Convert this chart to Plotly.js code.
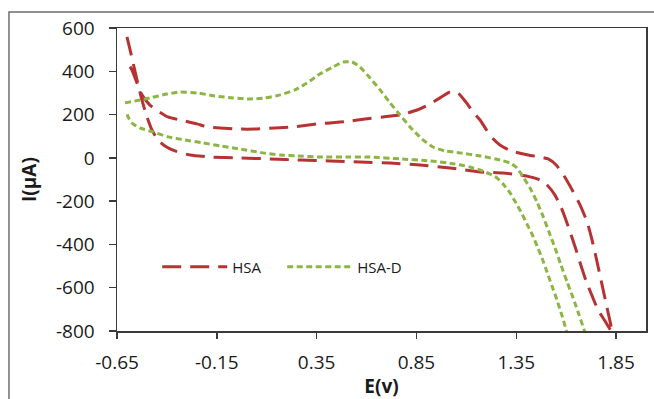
<!DOCTYPE html>
<html>
<head>
<meta charset="utf-8">
<script src="https://cdn.plot.ly/plotly-3.0.1.min.js"></script>
<style>
  html, body { margin: 0; padding: 0; background: #fff; overflow: hidden; }
  #chart { width: 654px; height: 399px; }
</style>
</head>
<body>
<div id="chart"></div>
<script>
// ---- Data ----
const seriesNames = ["HSA", "HSA-D"];

// HSA: potential E (V) and current I (µA), one continuous cyclic sweep
const hsaE = [
  -0.60, -0.575, -0.55, -0.525, -0.50, -0.475, -0.445, -0.41, -0.36, -0.284,
  -0.184, -0.034, 0.117, 0.267, 0.417, 0.567, 0.718, 0.868, 1.018, 1.169,
  1.284, 1.369, 1.419, 1.469, 1.509, 1.544, 1.574, 1.599, 1.625, 1.65,
  1.675, 1.70, 1.73, 1.76, 1.795, 1.83,
  1.805, 1.78, 1.755, 1.73, 1.705, 1.67, 1.63, 1.59, 1.55, 1.51,
  1.469, 1.41, 1.344, 1.31, 1.27, 1.234, 1.20, 1.169, 1.134, 1.10,
  1.058, 1.018, 0.968, 0.908, 0.853,
  0.768, 0.683, 0.593, 0.517, 0.417, 0.352, 0.232, 0.142, 0.041, -0.049,
  -0.134, -0.199, -0.249, -0.31, -0.395, -0.445, -0.485, -0.525, -0.55, -0.575,
  -0.60
];
const hsaI = [
  559, 462, 360, 267, 189, 129, 83, 55, 32, 13,
  4, 0, -5, -10, -14, -19, -24, -33, -47, -65,
  -70, -79, -88, -102, -130, -172, -227, -287, -356, -426,
  -500, -569, -638, -703, -754, -805,
  -694, -587, -481, -380, -296, -218, -148, -84, -33, -5,
  4, 13, 27, 38, 58, 88, 130, 175, 212, 255,
  300, 304, 277, 244, 221,
  198, 189, 180, 170, 161, 157, 143, 138, 133, 133,
  138, 143, 157, 170, 189, 217, 244, 291, 346, 406,
  443
];

// HSA-D
const hsadE = [
  -0.61, -0.56, -0.485, -0.40, -0.334, -0.25, -0.159, -0.069, 0.016, 0.091,
  0.167, 0.242, 0.302, 0.367, 0.432, 0.482, 0.527, 0.567, 0.618, 0.668,
  0.718, 0.768, 0.818, 0.878, 0.933, 0.993, 1.068, 1.169, 1.269, 1.319,
  1.354, 1.384, 1.419, 1.454, 1.484, 1.514, 1.544, 1.574, 1.605, 1.635,
  1.665, 1.695, 1.71,
  1.615, 1.600, 1.580, 1.554, 1.529, 1.504, 1.479, 1.454, 1.429, 1.404,
  1.379, 1.349, 1.319, 1.284, 1.254, 1.219, 1.169, 1.118, 1.043, 0.918,
  0.768, 0.618, 0.517, 0.367, 0.252, 0.167, 0.081, -0.034, -0.134, -0.219,
  -0.31, -0.395, -0.47, -0.535, -0.57, -0.595, -0.60
];
const hsadI = [
  254, 263, 277, 295, 304, 300, 286, 277, 272, 277,
  291, 314, 346, 388, 420, 443, 443, 420, 369, 314,
  254, 198, 143, 87, 50, 32, 23, 9, -10, -24,
  -47, -88, -139, -204, -269, -343, -416, -495, -574, -648,
  -726, -809, -851,
  -842, -795, -731, -657, -592, -527, -463, -407, -352, -306,
  -259, -209, -162, -121, -93, -75, -56, -42, -28, -14,
  -5, 4, 4, 4, 9, 13, 23, 41, 55, 69,
  83, 97, 120, 138, 157, 189, 212
];

// Tick labels
const xTickVals = [-0.65, -0.15, 0.35, 0.85, 1.35, 1.85];
const xTickText = ["-0.65", "-0.15", "0.35", "0.85", "1.35", "1.85"];
const yTickVals = [-800, -600, -400, -200, 0, 200, 400, 600];
const yTickText = ["-800", "-600", "-400", "-200", "0", "200", "400", "600"];

// ---- Plot ----
const FONT = "Open Sans, Liberation Sans, sans-serif";

const traces = [
  {
    x: hsaE, y: hsaI, name: seriesNames[0], type: "scatter", mode: "lines",
    line: { color: "#B73333", width: 3, dash: "19px,9px", shape: "spline", smoothing: 0.5 }
  },
  {
    x: hsadE, y: hsadI, name: seriesNames[1], type: "scatter", mode: "lines",
    line: { color: "#8DB544", width: 3, dash: "6px,3.5px", shape: "spline", smoothing: 0.5 }
  }
];

const axisCommon = {
  showgrid: false, zeroline: false, showline: true, mirror: true,
  linecolor: "#3a3a3a", linewidth: 1.5,
  ticks: "outside", tickcolor: "#3a3a3a", tickwidth: 1.5,
  tickfont: { family: FONT, size: 19, color: "#1a1a1a" },
  fixedrange: true
};

const layout = {
  width: 654, height: 399,
  margin: { l: 117, r: 8, t: 28, b: 68 },
  paper_bgcolor: "#ffffff", plot_bgcolor: "#ffffff",
  showlegend: true,
  legend: {
    orientation: "h", x: 0.076, y: 0.211, xanchor: "left", yanchor: "middle",
    bgcolor: "rgba(0,0,0,0)", font: { family: FONT, size: 15, color: "#1a1a1a" },
    itemwidth: 65, entrywidth: 45, entrywidthmode: "pixels"
  },
  xaxis: Object.assign({}, axisCommon, {
    range: [-0.65, 2.0], tickmode: "array", tickvals: xTickVals, ticktext: xTickText,
    ticklen: 6, ticklabelstandoff: 8,
    title: { text: "<b>E(v)</b>", font: { family: FONT, size: 19, color: "#1a1a1a" }, standoff: 4 }
  }),
  yaxis: Object.assign({}, axisCommon, {
    range: [-800, 600], tickmode: "array", tickvals: yTickVals, ticktext: yTickText,
    ticklen: 7, ticklabelstandoff: 10,
    title: { text: "<b>I(μA)</b>", font: { family: FONT, size: 19, color: "#1a1a1a" }, standoff: 14 }
  }),
  shapes: [
    {
      type: "rect", xref: "paper", yref: "paper",
      x0: -0.2042, x1: 1.2, y0: -0.4, y1: 1.0528,
      line: { color: "#6e6e6e", width: 1.5 }, fillcolor: "rgba(0,0,0,0)", layer: "below"
    }
  ]
};

Plotly.newPlot("chart", traces, layout, { staticPlot: true, displayModeBar: false });
</script>
</body>
</html>
